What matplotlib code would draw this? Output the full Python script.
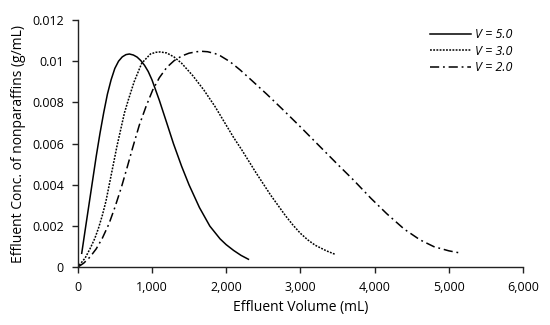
import numpy as np
import matplotlib.pyplot as plt

plt.rcParams['font.family'] = ['Open Sans', 'DejaVu Sans']

# V = 5.0
x_v5 = [54, 100, 150, 200, 250, 300, 350, 400, 450, 500, 550, 600, 650, 696,
        750, 800, 850, 900, 950, 1000, 1100, 1200, 1290, 1400, 1500, 1640, 1780,
        1918, 2000, 2100, 2200, 2300]
y_v5 = [0.00068, 0.0018, 0.0030, 0.0042, 0.0054, 0.0065, 0.0075, 0.0084, 0.0091,
        0.00965, 0.0100, 0.01021, 0.01032, 0.01035, 0.01030, 0.01020, 0.01003,
        0.0098, 0.0095, 0.0091, 0.0081, 0.0070, 0.0060, 0.0049, 0.0040, 0.0029,
        0.0020, 0.00138, 0.00110, 0.00082, 0.00058, 0.00039]

# V = 3.0
x_v3 = [20, 100, 166, 230, 280, 330, 380, 430, 480, 530, 580, 630, 680, 760, 862,
        980, 1050, 1109, 1200, 1300, 1400, 1550, 1700, 1850, 2000, 2100, 2210,
        2400, 2600, 2800, 2900, 3000, 3100, 3200, 3350, 3468]
y_v3 = [0.0001, 0.00045, 0.0009, 0.0014, 0.0019, 0.0025, 0.0032, 0.0041, 0.0050,
        0.0059, 0.0067, 0.0075, 0.0081, 0.0090, 0.0099, 0.01035, 0.01043, 0.01045,
        0.0104, 0.0102, 0.0099, 0.0093, 0.0086, 0.0078, 0.0069, 0.0063, 0.0057,
        0.0046, 0.0035, 0.0025, 0.00205, 0.00165, 0.00133, 0.00107, 0.0008, 0.00063]

# V = 2.0
x_v2 = [10, 80, 166, 250, 330, 420, 500, 590, 670, 740, 830, 920, 1010, 1100,
        1200, 1300, 1400, 1500, 1600, 1671, 1750, 1850, 1918, 2050, 2187, 2350,
        2547, 2750, 2996, 3310, 3500, 3714, 3950, 4164, 4400, 4613, 4800, 5000, 5130]
y_v2 = [0.00003, 0.0002, 0.0005, 0.0009, 0.0014, 0.0021, 0.0029, 0.0039, 0.0049,
        0.0058, 0.0069, 0.0078, 0.0086, 0.0092, 0.0097, 0.01003, 0.01025, 0.01039,
        0.01046, 0.01048, 0.01046, 0.01037, 0.01027, 0.00998, 0.00958, 0.00905,
        0.00840, 0.00770, 0.00683, 0.00569, 0.00500, 0.00424, 0.00335, 0.00260,
        0.00185, 0.00133, 0.00100, 0.00080, 0.00071]

x_ticks = [0, 1000, 2000, 3000, 4000, 5000, 6000]
x_ticklabels = ["0", "1,000", "2,000", "3,000", "4,000", "5,000", "6,000"]
y_ticks = [0, 0.002, 0.004, 0.006, 0.008, 0.010, 0.012]
y_ticklabels = ["0", "0.002", "0.004", "0.006", "0.008", "0.01", "0.012"]

fig = plt.figure(figsize=(5.5, 3.25), dpi=100)
ax = fig.add_axes([0.1413, 0.1775, 0.8097, 0.761])

ax.plot(x_v5, y_v5, color="black", lw=1.1, label="V = 5.0")
ax.plot(x_v3, y_v3, color="black", lw=1.1, linestyle=(0, (1.2, 0.9)), label="V = 3.0")
ax.plot(x_v2, y_v2, color="black", lw=1.1, linestyle=(0, (6, 2.5, 1.2, 2.5)), label="V = 2.0")

ax.set_xlim(0, 6000)
ax.set_ylim(0, 0.012)
ax.set_xticks(x_ticks)
ax.set_xticklabels(x_ticklabels)
ax.set_yticks(y_ticks)
ax.set_yticklabels(y_ticklabels)
ax.tick_params(labelsize=9, length=4, width=1, color="#222222", pad=6)

for s in ["top", "right"]:
    ax.spines[s].set_visible(False)
for s in ["left", "bottom"]:
    ax.spines[s].set_linewidth(1)
    ax.spines[s].set_color("#222222")

ax.set_xlabel("Effluent Volume (mL)", fontsize=10)
ax.set_ylabel("Effluent Conc. of nonparaffins (g/mL)", fontsize=10)

leg = ax.legend(loc="upper left", bbox_to_anchor=(0.776, 0.993), frameon=False,
                fontsize=9, handlelength=3.3, handletextpad=0.3, labelspacing=0.3,
                borderpad=0)
for t in leg.get_texts():
    t.set_fontstyle("italic")

fig.savefig("out.png", dpi=100)
